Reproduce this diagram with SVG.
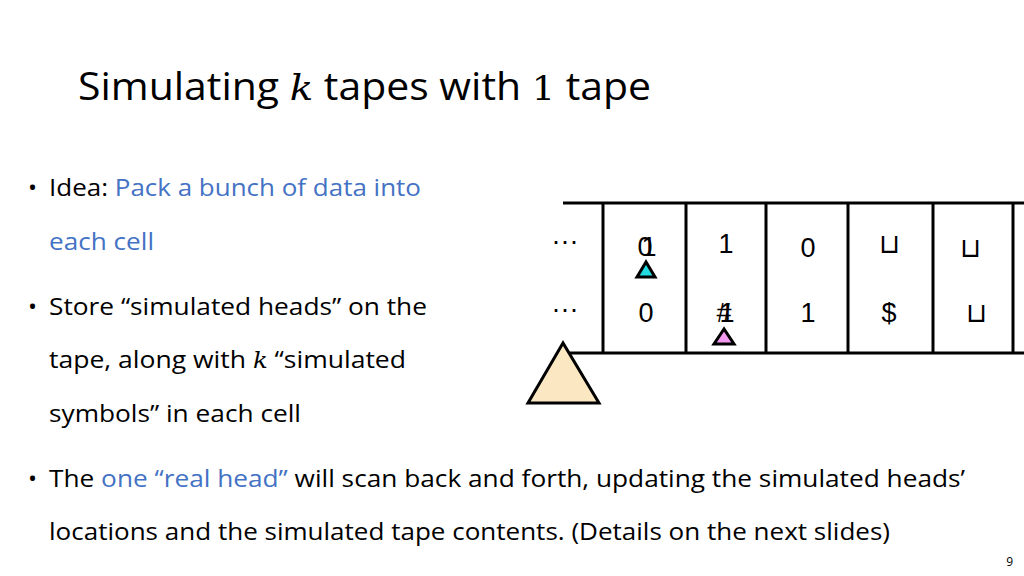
<svg xmlns="http://www.w3.org/2000/svg" width="1024" height="576" viewBox="0 0 1024 576">
<style>
.t{font-family:"Open Sans","Liberation Sans",sans-serif;fill:#000}
.b{font-size:24px}
.blue{fill:#4472c4}
.c{font-family:"Liberation Sans",sans-serif;font-size:27px;text-anchor:middle}
.m{font-family:"DejaVu Serif",serif;font-style:italic}
line{stroke:#000;stroke-width:3}
</style>
<rect width="1024" height="576" fill="#fff"/>
<text class="t" x="78" y="100" font-size="38" textLength="573" lengthAdjust="spacingAndGlyphs">Simulating <tspan class="m" font-size="36">k</tspan> tapes with <tspan font-family="DejaVu Serif" font-size="34">1</tspan> tape</text>
<g id="text">
<text class="t b" x="28" y="196">•</text>
<text class="t b" x="49" y="196" textLength="372" lengthAdjust="spacingAndGlyphs">Idea: <tspan class="blue">Pack a bunch of data into</tspan></text>
<text class="t b blue" x="49" y="250" textLength="105" lengthAdjust="spacingAndGlyphs">each cell</text>
<text class="t b" x="28" y="315">•</text>
<text class="t b" x="49" y="315" textLength="378" lengthAdjust="spacingAndGlyphs">Store “simulated heads” on the</text>
<text class="t b" x="49" y="368" textLength="357" lengthAdjust="spacingAndGlyphs">tape, along with <tspan class="m" font-size="22">k</tspan> “simulated</text>
<text class="t b" x="49" y="422" textLength="252" lengthAdjust="spacingAndGlyphs">symbols” in each cell</text>
<text class="t b" x="28" y="487">•</text>
<text class="t b" x="49" y="487" textLength="916" lengthAdjust="spacingAndGlyphs">The <tspan class="blue">one “real head”</tspan> will scan back and forth, updating the simulated heads’</text>
<text class="t b" x="49" y="540" textLength="841" lengthAdjust="spacingAndGlyphs">locations and the simulated tape contents. (Details on the next slides)</text>
<text class="t" x="1013" y="566" font-size="12" text-anchor="end">9</text>
</g>
<g id="tape">
<line x1="563" y1="203" x2="1024" y2="203"/>
<line x1="570" y1="353" x2="1024" y2="353"/>
<line x1="603" y1="203" x2="603" y2="353"/>
<line x1="686" y1="203" x2="686" y2="353"/>
<line x1="766" y1="203" x2="766" y2="353"/>
<line x1="848" y1="203" x2="848" y2="353"/>
<line x1="933" y1="203" x2="933" y2="353"/>
<line x1="1013" y1="203" x2="1013" y2="353"/>
<text class="c" x="565" y="250" font-size="24">···</text>
<text class="c" x="565" y="318" font-size="24">···</text>
<text class="c" x="645" y="256">0</text><text class="c" x="649" y="256">1</text>
<text class="c" x="726" y="253">1</text>
<text class="c" x="808" y="257">0</text>
<text class="c" x="889" y="253">⊔</text>
<text class="c" x="970" y="257">⊔</text>
<text class="c" x="646" y="322">0</text>
<text class="c" x="724" y="322">#</text><text class="c" x="727" y="322">1</text>
<text class="c" x="808" y="322">1</text>
<text class="c" x="889" y="322">$</text>
<text class="c" x="976" y="322">⊔</text>
</g>
<g id="heads" stroke="#000" stroke-width="3" stroke-linejoin="miter">
<polygon points="646,262 637,277 655,277" fill="#22dde0"/>
<polygon points="724,329 714,344 734,344" fill="#f29af0"/>
<polygon points="563,343 528,403 599,403" fill="#fbe8c2"/>
</g>
</svg>
